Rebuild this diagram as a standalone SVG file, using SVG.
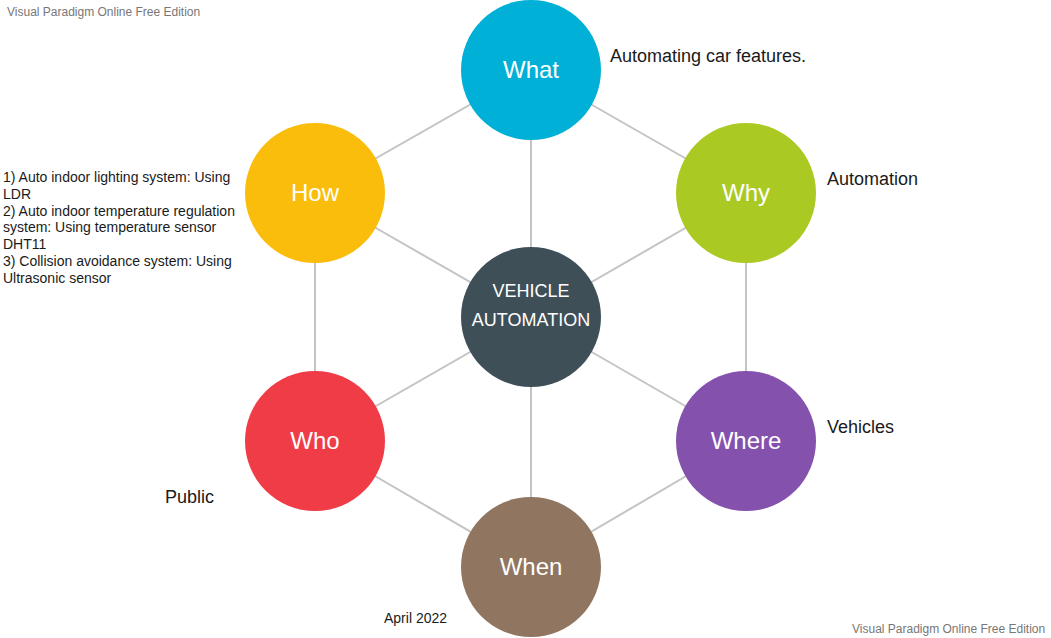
<svg xmlns="http://www.w3.org/2000/svg" width="1051" height="638" viewBox="0 0 1051 638">
  <style>
    .bg { fill: #ffffff; }
    .link { stroke: #c4c4c4; stroke-width: 2; fill: none; }
    .node-label { font-family: "Liberation Sans", Arial, sans-serif; font-size: 24px; fill: #ffffff; text-anchor: middle; }
    .hub-label { font-family: "Liberation Sans", Arial, sans-serif; font-size: 18px; fill: #ffffff; text-anchor: middle; }
    .note { font-family: "Liberation Sans", Arial, sans-serif; font-size: 18px; fill: #1a1a1a; }
    .note-small { font-family: "Liberation Sans", Arial, sans-serif; font-size: 14px; fill: #1a1a1a; }
    .mark { font-family: "Liberation Sans", Arial, sans-serif; font-size: 12px; fill: #777777; }
  </style>
  <rect class="bg" x="0" y="0" width="1051" height="638"/>

  <text class="mark" x="7" y="16">Visual Paradigm Online Free Edition</text>
  <text class="mark" x="852" y="633">Visual Paradigm Online Free Edition</text>

  <g id="connectors">
    <!-- outer ring -->
    <line class="link" x1="531" y1="70" x2="746" y2="193"/>
    <line class="link" x1="746" y1="193" x2="746" y2="441"/>
    <line class="link" x1="746" y1="441" x2="531" y2="567"/>
    <line class="link" x1="531" y1="567" x2="315" y2="441"/>
    <line class="link" x1="315" y1="441" x2="315" y2="193"/>
    <line class="link" x1="315" y1="193" x2="531" y2="70"/>
    <!-- spokes to hub -->
    <line class="link" x1="531" y1="317" x2="531" y2="70"/>
    <line class="link" x1="531" y1="317" x2="746" y2="193"/>
    <line class="link" x1="531" y1="317" x2="746" y2="441"/>
    <line class="link" x1="531" y1="317" x2="531" y2="567"/>
    <line class="link" x1="531" y1="317" x2="315" y2="441"/>
    <line class="link" x1="531" y1="317" x2="315" y2="193"/>
  </g>

  <g id="hub">
    <circle cx="531" cy="317" r="70" fill="#3f4f58"/>
    <text class="hub-label" x="531" y="297">VEHICLE</text>
    <text class="hub-label" x="531" y="326">AUTOMATION</text>
  </g>

  <g id="what">
    <circle cx="531" cy="70" r="70" fill="#00b0d6"/>
    <text class="node-label" x="531" y="78">What</text>
  </g>
  <g id="why">
    <circle cx="746" cy="193" r="70" fill="#abc923"/>
    <text class="node-label" x="746" y="201">Why</text>
  </g>
  <g id="where">
    <circle cx="746" cy="441" r="70" fill="#8451ad"/>
    <text class="node-label" x="746" y="449">Where</text>
  </g>
  <g id="when">
    <circle cx="531" cy="567" r="70" fill="#907661"/>
    <text class="node-label" x="531" y="575">When</text>
  </g>
  <g id="who">
    <circle cx="315" cy="441" r="70" fill="#f03c47"/>
    <text class="node-label" x="315" y="449">Who</text>
  </g>
  <g id="how">
    <circle cx="315" cy="193" r="70" fill="#fbbd0b"/>
    <text class="node-label" x="315" y="201">How</text>
  </g>

  <g id="notes">
    <text class="note" x="610" y="62">Automating car features.</text>
    <text class="note" x="827" y="185">Automation</text>
    <text class="note" x="827" y="433">Vehicles</text>
    <text class="note" x="165" y="503">Public</text>
    <text class="note-small" x="384" y="623">April 2022</text>
    <text class="note-small">
      <tspan x="3" y="182">1) Auto indoor lighting system: Using</tspan>
      <tspan x="3" y="199">LDR</tspan>
      <tspan x="3" y="216">2) Auto indoor temperature regulation</tspan>
      <tspan x="3" y="232">system: Using temperature sensor</tspan>
      <tspan x="3" y="249">DHT11</tspan>
      <tspan x="3" y="266">3) Collision avoidance system: Using</tspan>
      <tspan x="3" y="283">Ultrasonic sensor</tspan>
    </text>
  </g>
</svg>
